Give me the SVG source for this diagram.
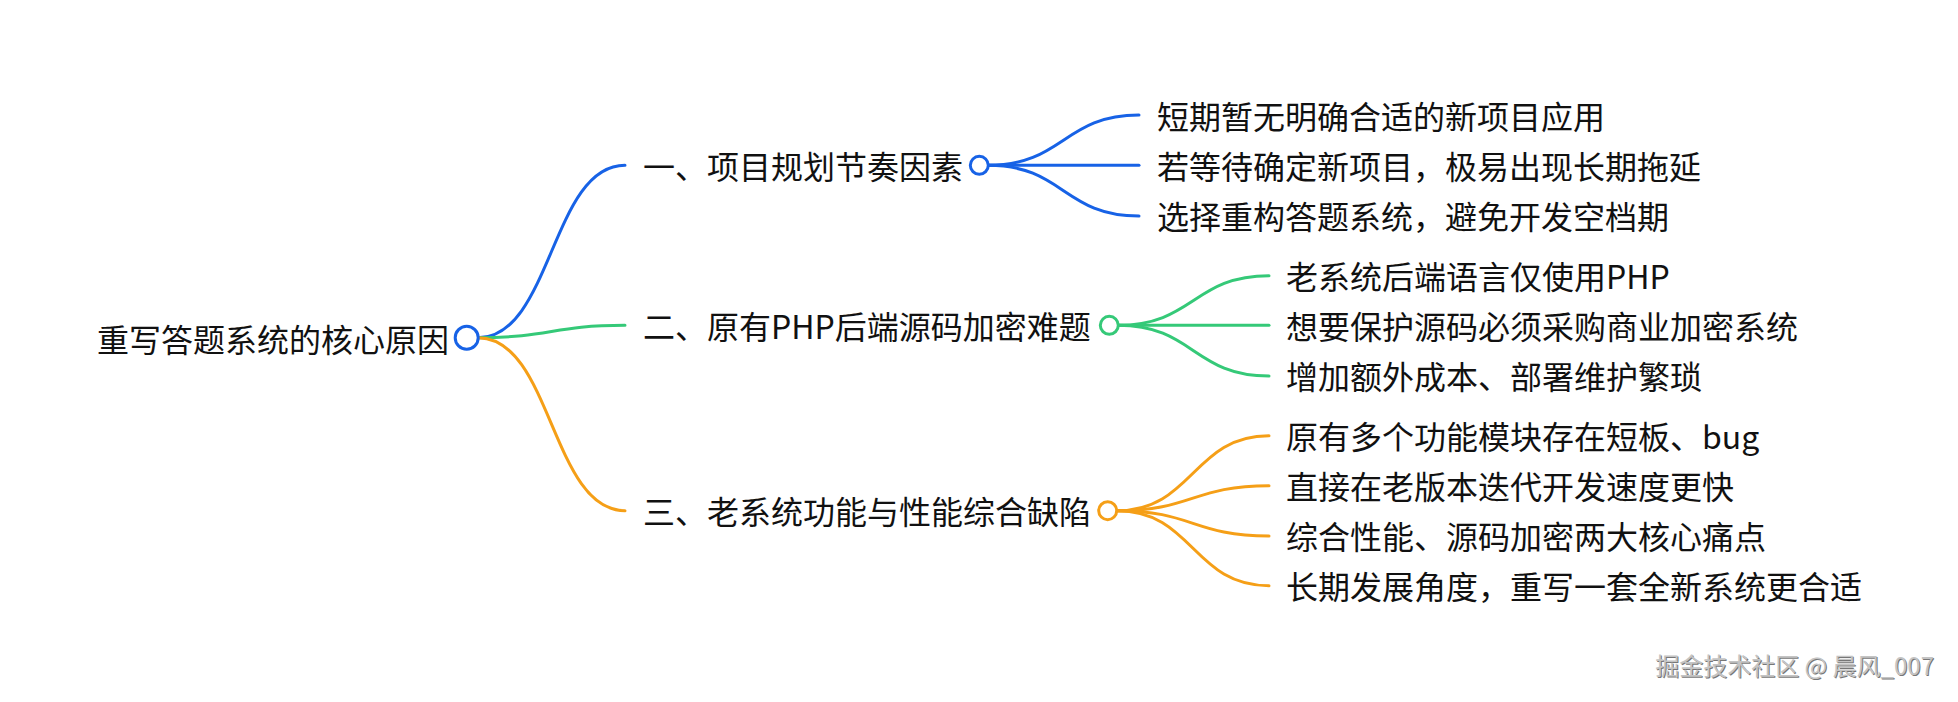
<svg xmlns="http://www.w3.org/2000/svg" width="1958" height="702" viewBox="0 0 1958 702">
<style>
text{font-family:"Noto Sans CJK SC","Noto Sans",sans-serif;font-size:32px;fill:#111}
.l{fill:none;stroke-width:3;stroke-linecap:round}
.b{stroke:#1762e6}.g{stroke:#35c978}.o{stroke:#f59f17}
.dot{fill:#fff;stroke-width:3}
.wm{font-size:24px}
</style>
<rect width="1958" height="702" fill="#fff"/>
<g id="connectors">
<path class="l b" d="M478,337.7 C551.5,337.7 551.5,165.3 625,165.3"/>
<path class="l g" d="M478,337.7 C551.5,337.7 551.5,325.3 625,325.3"/>
<path class="l o" d="M478,337.7 C551.5,337.7 551.5,510.7 625,510.7"/>
<path class="l b" d="M988,165.3 C1063.5,165.3 1063.5,115 1139,115"/>
<path class="l b" d="M988,165.3 L1139,165.3"/>
<path class="l b" d="M988,165.3 C1063.5,165.3 1063.5,216 1139,216"/>
<path class="l g" d="M1118,325.3 C1193.5,325.3 1193.5,275.7 1269,275.7"/>
<path class="l g" d="M1118,325.3 L1269,325.3"/>
<path class="l g" d="M1118,325.3 C1193.5,325.3 1193.5,376 1269,376"/>
<path class="l o" d="M1117,510.7 C1193,510.7 1193,435.7 1269,435.7"/>
<path class="l o" d="M1117,510.7 C1193,510.7 1193,485.7 1269,485.7"/>
<path class="l o" d="M1117,510.7 C1193,510.7 1193,536 1269,536"/>
<path class="l o" d="M1117,510.7 C1193,510.7 1193,585.7 1269,585.7"/>
</g>
<g id="root">
<text x="97" y="352">重写答题系统的核心原因</text>
<circle class="dot b" cx="466.7" cy="337.7" r="11.5"/>
</g>
<g id="branch1">
<text x="643" y="178.5">一、项目规划节奏因素</text>
<circle class="dot b" cx="979.3" cy="165.3" r="9"/>
</g>
<g id="b1c1"><text x="1157" y="128.5">短期暂无明确合适的新项目应用</text></g>
<g id="b1c2"><text x="1157" y="178.5">若等待确定新项目，极易出现长期拖延</text></g>
<g id="b1c3"><text x="1157" y="229">选择重构答题系统，避免开发空档期</text></g>
<g id="branch2">
<text x="643" y="338.5">二、原有PHP后端源码加密难题</text>
<circle class="dot g" cx="1109.3" cy="325.3" r="9"/>
</g>
<g id="b2c1"><text x="1286" y="289">老系统后端语言仅使用PHP</text></g>
<g id="b2c2"><text x="1286" y="338.5">想要保护源码必须采购商业加密系统</text></g>
<g id="b2c3"><text x="1286" y="389">增加额外成本、部署维护繁琐</text></g>
<g id="branch3">
<text x="643" y="524">三、老系统功能与性能综合缺陷</text>
<circle class="dot o" cx="1107.7" cy="510.7" r="9"/>
</g>
<g id="b3c1"><text x="1286" y="449">原有多个功能模块存在短板、bug</text></g>
<g id="b3c2"><text x="1286" y="499">直接在老版本迭代开发速度更快</text></g>
<g id="b3c3"><text x="1286" y="549">综合性能、源码加密两大核心痛点</text></g>
<g id="b3c4"><text x="1286" y="599">长期发展角度，重写一套全新系统更合适</text></g>
<g id="watermark">
<text class="wm" x="1935" y="676" text-anchor="end" style="fill:#777">掘金技术社区 @ 晨风_007</text>
<text class="wm" x="1934" y="675" text-anchor="end" style="fill:#c4c4c4">掘金技术社区 @ 晨风_007</text>
</g>
</svg>
